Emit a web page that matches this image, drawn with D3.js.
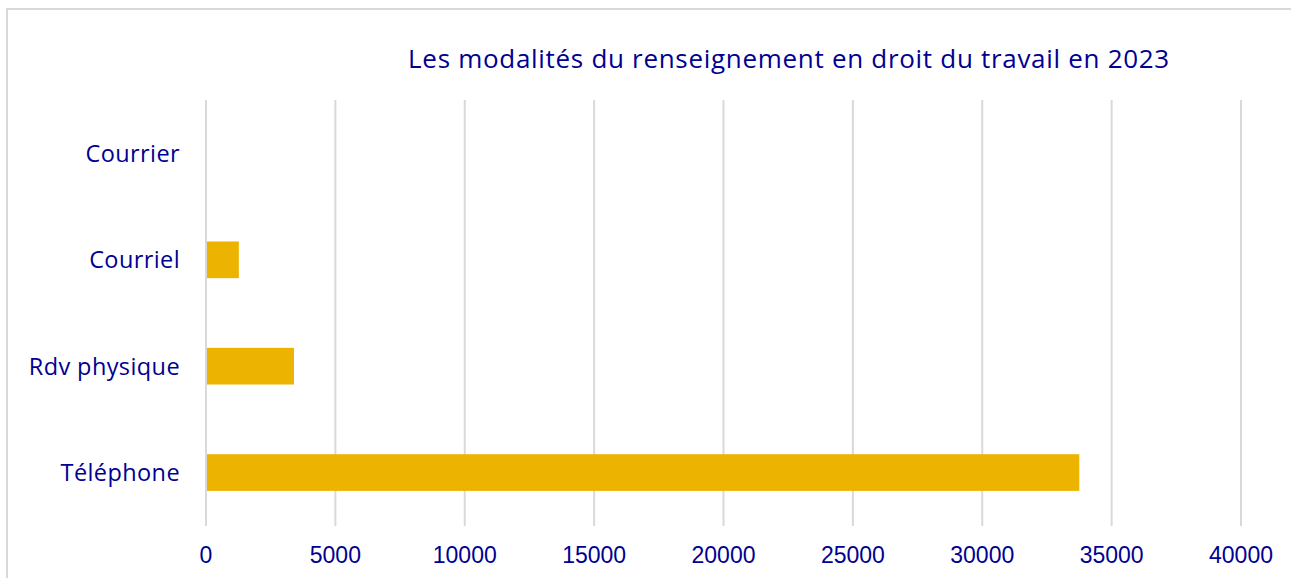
<!DOCTYPE html>
<html lang="fr">
<head>
<meta charset="UTF-8">
<title>Les modalités du renseignement en droit du travail en 2023</title>
<script src="https://d3js.org/d3.v7.min.js"></script>
<style>
  body { margin: 0; background: #fff; }
  svg { display: block; }
  .cat { font-family: 'Open Sans', sans-serif; font-size: 23.5px; letter-spacing: 0.4px; fill: #000091; }
  .tick-label { font-family: 'Liberation Sans', Arial, sans-serif; font-size: 23px; fill: #000091; }
</style>
</head>
<body>
<script>
  // data
  var categories = ["Courrier", "Courriel", "Rdv physique", "Téléphone"];
  var values = [20, 1270, 3400, 33750];
  var tickValues = [0, 5000, 10000, 15000, 20000, 25000, 30000, 35000, 40000];
  var title = "Les modalités du renseignement en droit du travail en 2023";

  var width = 1291, height = 578;
  var margin = { top: 100, right: 50, bottom: 52, left: 206 };

  var svg = d3.select("body").append("svg")
    .attr("width", width)
    .attr("height", height);

  // outer frame (runs off the right and bottom edges)
  svg.append("rect")
    .attr("x", 7).attr("y", 9)
    .attr("width", width + 20).attr("height", height + 20)
    .attr("fill", "none")
    .attr("stroke", "#d9d9d9")
    .attr("stroke-width", 2);

  var x = d3.scaleLinear()
    .domain([0, 40000])
    .range([margin.left, 1241]);

  var y = d3.scaleBand()
    .domain(categories)
    .range([margin.top, height - margin.bottom])
    .paddingInner(0.655)
    .paddingOuter(0.33);

  // gridlines
  svg.append("g")
    .selectAll("line")
    .data(tickValues)
    .join("line")
    .attr("x1", d => x(d)).attr("x2", d => x(d))
    .attr("y1", margin.top).attr("y2", height - margin.bottom)
    .attr("stroke", "#d9d9d9")
    .attr("stroke-width", 2);

  // bars
  svg.append("g")
    .selectAll("rect")
    .data(categories)
    .join("rect")
    .attr("x", x(0) + 1)
    .attr("y", d => y(d))
    .attr("width", (d, i) => Math.max(0, x(values[i]) - x(0) - 1))
    .attr("height", y.bandwidth())
    .attr("fill", "#ecb400");

  // category labels
  svg.append("g")
    .selectAll("text")
    .data(categories)
    .join("text")
    .attr("class", "cat")
    .attr("x", 180)
    .attr("y", d => y(d) + y.bandwidth() / 2)
    .attr("dy", "0.36em")
    .attr("text-anchor", "end")
    .text(d => d);

  // x tick labels
  svg.append("g")
    .selectAll("text")
    .data(tickValues)
    .join("text")
    .attr("class", "tick-label")
    .attr("x", d => x(d))
    .attr("y", 563)
    .attr("text-anchor", "middle")
    .text(d => d);

  // title
  svg.append("text")
    .attr("x", 789)
    .attr("y", 68)
    .attr("text-anchor", "middle")
    .attr("font-family", "'Open Sans', sans-serif")
    .attr("font-size", 26)
    .attr("letter-spacing", 0.7)
    .attr("fill", "#000091")
    .text(title);
</script>
</body>
</html>
